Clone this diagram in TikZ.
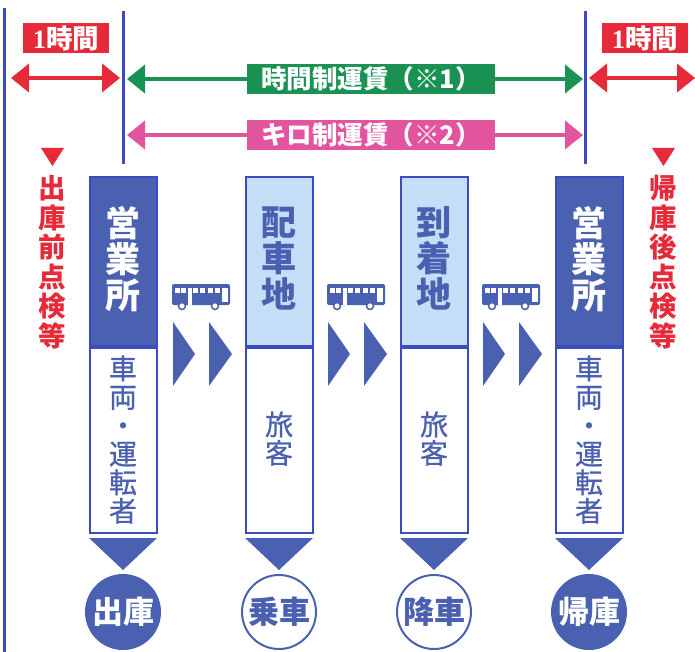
\documentclass[tikz,border=0pt]{standalone}
\usepackage{fontspec}
\newfontfamily\jpfont{Noto Sans CJK JP}
\newfontfamily\jpmidfont[FakeBold=0.7]{Noto Sans CJK JP}
\newfontfamily\numfont{Liberation Serif}
\usetikzlibrary{arrows.meta,positioning}
\definecolor{lineblue}{RGB}{58, 76, 190}
\definecolor{darkblue}{RGB}{74, 96, 176}
\definecolor{paleblue}{RGB}{197, 222, 248}
\definecolor{fareGreen}{RGB}{26, 146, 84}
\definecolor{farePink}{RGB}{226, 84, 158}
\definecolor{hourRed}{RGB}{230, 42, 58}
\tikzset{
  headbox/.style={draw=lineblue,line width=2pt,minimum width=67pt,minimum height=169pt,inner sep=0pt,align=center,font=\jpfont\bfseries\fontsize{35}{36}\selectfont},
  lowbox/.style={draw=lineblue,line width=2pt,fill=white,minimum width=67pt,minimum height=185pt,inner sep=0pt,align=center,text=darkblue,font=\jpmidfont\fontsize{28}{28.5}\selectfont},
  stopnode/.style={circle,draw=darkblue,line width=2pt,minimum size=74pt,inner sep=0pt,font=\jpfont\bfseries\fontsize{31}{31}\selectfont},
  farelabel/.style={minimum width=248pt,minimum height=30pt,inner sep=0pt,text=white,font=\jpfont\bfseries\fontsize{25.5}{26}\selectfont},
  hourlabel/.style={fill=hourRed,minimum width=86pt,minimum height=30pt,inner sep=0pt,text=white,font=\jpfont\bfseries\fontsize{26.5}{27}\selectfont},
  sidetext/.style={text=hourRed,align=center,inner sep=0pt,font=\jpfont\bfseries\fontsize{27.5}{29.5}\selectfont},
  farearrow/.style={line width=4pt,-{Triangle[length=18pt,width=28pt]}},
  hourarrow/.style={line width=4pt,hourRed,{Triangle[length=18pt,width=28pt]}-{Triangle[length=18pt,width=28pt]}}
}
% last row of a stack, with extra depth so that the stack sits higher in its box
\newcommand{\liftrow}[2]{\raisebox{0pt}[\height][#1]{#2}}
% bus icon, x and y of its top left corner
\newcommand{\busicon}[2]{
  \begin{scope}[shift={(#1,#2)}]
    \fill[darkblue,rounded corners=2pt] (0,0) rectangle (58,21);
    \foreach \wx in {3,9,21,28,36,43} \fill[white] (\wx,4) rectangle ++(5,5);
    \fill[white] (15.5,4) rectangle (20,21);
    \fill[white] (50,4) rectangle (56,18);
    \foreach \wx in {10,43} \filldraw[fill=white,draw=darkblue,line width=1.5pt] (\wx,22) circle (3.5);
  \end{scope}
}
\begin{document}
\begin{tikzpicture}[x=1pt,y=-1pt]
\useasboundingbox (0,0) rectangle (695,652);
% time lines
\draw[lineblue,line width=3pt] (4,8) -- (4,652);
\draw[lineblue,line width=3pt] (123,11) -- (123,164);
\draw[lineblue,line width=3pt] (585,11) -- (585,164);

% 1 hour, left and right
\node[hourlabel] (hourL) at (66,38) {{\numfont\bfseries 1}時間};
\node[hourlabel] (hourR) at (645,38) {{\numfont\bfseries 1}時間};
\coordinate (hourLa) at (11,78);
\coordinate (hourLb) at (120,78);
\coordinate (hourRa) at (589,78);
\coordinate (hourRb) at (695,78);
\draw[hourarrow] (hourLa) -- (hourLb);
\draw[hourarrow] (hourRa) -- (hourRb);

% fares
\node[farelabel,fill=fareGreen] (fareTime) at (371,79) {時間制運賃（※1）};
\node[farelabel,fill=farePink] (fareKilo) at (371,135) {キロ制運賃（※2）};
\coordinate (fareTimeL) at (127,79);
\coordinate (fareTimeR) at (583,79);
\coordinate (fareKiloL) at (127,135);
\coordinate (fareKiloR) at (583,135);
\draw[farearrow,fareGreen] (fareTime.west) -- (fareTimeL);
\draw[farearrow,fareGreen] (fareTime.east) -- (fareTimeR);
\draw[farearrow,farePink] (fareKilo.west) -- (fareKiloL);
\draw[farearrow,farePink] (fareKilo.east) -- (fareKiloR);

% side notes
\fill[hourRed] (41,148) -- (64,148) -- (52.5,166) -- cycle;
\fill[hourRed] (652,148) -- (675,148) -- (663.5,166) -- cycle;
\node[sidetext] (checkOut) at (52.5,262) {出\\庫\\前\\点\\検\\等};
\node[sidetext] (checkIn) at (663.5,262) {帰\\庫\\後\\点\\検\\等};

% columns
\node[headbox,fill=darkblue,text=white] (headA) at (123,261.5) {営\\業\\\liftrow{8pt}{所}};
\node[headbox,fill=paleblue,text=darkblue] (headB) at (279,261.5) {配\\車\\\liftrow{8pt}{地}};
\node[headbox,fill=paleblue,text=darkblue] (headC) at (434,261.5) {到\\着\\\liftrow{8pt}{地}};
\node[headbox,fill=darkblue,text=white] (headD) at (589,261.5) {営\\業\\\liftrow{8pt}{所}};
\node[lowbox,below=0pt of headA] (lowA) {車\\両\\・\\運\\転\\\liftrow{4pt}{者}};
\node[lowbox,below=0pt of headB] (lowB) {旅\\\liftrow{6pt}{客}};
\node[lowbox,below=0pt of headC] (lowC) {旅\\\liftrow{6pt}{客}};
\node[lowbox,below=0pt of headD] (lowD) {車\\両\\・\\運\\転\\\liftrow{4pt}{者}};

% down triangles
\foreach \cx in {123,279,434,589}
  \fill[darkblue] (\cx-34,538) -- (\cx+34,538) -- (\cx,570) -- cycle;

% stops
\node[stopnode,fill=darkblue,text=white] (stopA) at (123,612) {出庫};
\node[stopnode,fill=white,text=darkblue] (stopB) at (279,612) {乗車};
\node[stopnode,fill=white,text=darkblue] (stopC) at (434,612) {降車};
\node[stopnode,fill=darkblue,text=white] (stopD) at (589,612) {帰庫};

% buses and chevrons
\foreach \bx in {172,327,482} {
  \busicon{\bx}{284}
  \fill[darkblue] (\bx+1,322) -- (\bx+23,354) -- (\bx+1,386) -- cycle;
  \fill[darkblue] (\bx+37,322) -- (\bx+60,354) -- (\bx+37,386) -- cycle;
}
\end{tikzpicture}
\end{document}
